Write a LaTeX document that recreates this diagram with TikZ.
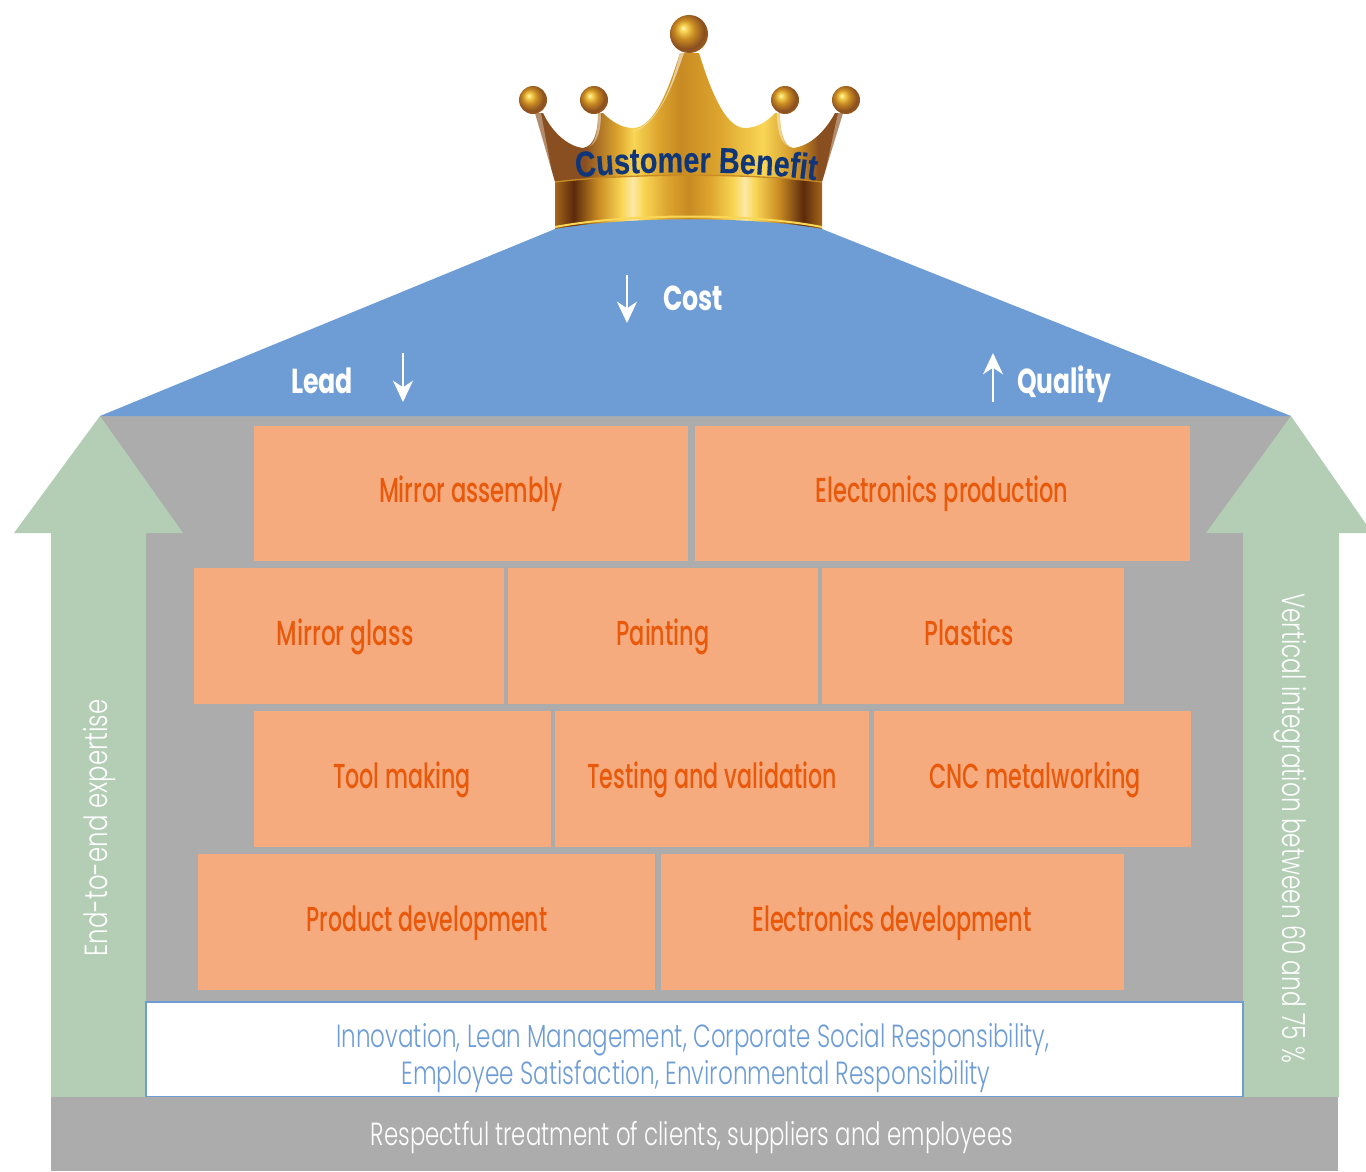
\documentclass[tikz,border=0pt]{standalone}
\usepackage{fontspec}
\usepackage{graphicx}
\usetikzlibrary{arrows.meta,decorations.text}
\newfontfamily\medf{Poppins Medium}
\newfontfamily\lightf{Poppins Light}
\newfontfamily\boldf{Poppins Bold}
\newfontfamily\crownf[FakeStretch=0.8,FakeBold=0.25]{Liberation Sans Bold}
\definecolor{roofblue}{HTML}{6E9DD5}
\definecolor{wallgray}{HTML}{ABACAB}
\definecolor{arrowgreen}{HTML}{B3CEB5}
\definecolor{brickfill}{HTML}{F6AB7E}
\definecolor{bricktxt}{HTML}{E8590C}
\definecolor{navy}{HTML}{10367A}
\definecolor{gA}{HTML}{8A4F20}
\definecolor{gB}{HTML}{DDA52E}
\definecolor{gC}{HTML}{F9D655}
\definecolor{gD}{HTML}{C88A22}
\definecolor{gE}{HTML}{5C2A0C}
\definecolor{gF}{HTML}{FBE9A6}
\definecolor{gG}{HTML}{FFF6C8}
\definecolor{gH}{HTML}{A5661A}
% the part of a shading that fills a path is its middle square, 25bp to 75bp
\pgfdeclarehorizontalshading{goldbody}{100bp}{color(0bp)=(gA);color(25bp)=(gA);color(33bp)=(gA);color(38.5bp)=(gB);color(41bp)=(gC);color(45bp)=(gB);color(48.5bp)=(gD);color(55bp)=(gB);color(62bp)=(gC);color(68bp)=(gD);color(71bp)=(gA);color(75bp)=(gA);color(100bp)=(gA)}
\pgfdeclarehorizontalshading{goldband}{100bp}{color(0bp)=(gH);color(25bp)=(gH);color(28.5bp)=(gE);color(33bp)=(gD);color(37.5bp)=(gC);color(39.5bp)=(gF);color(41.5bp)=(gC);color(46bp)=(gB);color(50bp)=(gD);color(54bp)=(gB);color(58.5bp)=(gC);color(60.5bp)=(gF);color(62.5bp)=(gC);color(67bp)=(gD);color(71.5bp)=(gE);color(75bp)=(gH);color(100bp)=(gH)}
\pgfdeclareradialshading{goldball}{\pgfpoint{-8bp}{8bp}}{color(0bp)=(gG);color(4bp)=(gC);color(13bp)=(gD);color(24bp)=(gA);color(33bp)=(gH);color(50bp)=(gH)}
\tikzset{
  x=0.75pt,y=-0.75pt,
  wall/.style={fill=wallgray,draw=none},
  upar/.style={fill=arrowgreen,draw=none},
  brick/.style={fill=brickfill,draw=none},
  bricklabel/.style={text=bricktxt,font=\medf\fontsize{26pt}{28pt}\selectfont,inner sep=0,anchor=base},
  rooflabel/.style={text=white,font=\boldf\fontsize{26pt}{28pt}\selectfont,inner sep=0,anchor=base},
  thinlabel/.style={text=white,font=\lightf\fontsize{24pt}{28pt}\selectfont,inner sep=0,anchor=base},
  bluelabel/.style={text=roofblue,font=\lightf\fontsize{24pt}{28pt}\selectfont,inner sep=0,anchor=base},
  whitearrow/.style={draw=white,line width=1.5pt,-{Stealth[length=16pt,width=15pt,inset=5pt]}},
  ballst/.style={shade,shading=goldball},
}
% \fit{width in px}{text}: squeeze text horizontally to the reference's width
\newcommand{\fit}[2]{\resizebox{\dimexpr #1pt*3/4\relax}{\height}{#2}}
\newcommand{\brick}[9]{%
  \path[brick] (#1,#3) rectangle (#2,#4);
  \node[bricklabel] (#7) at (#5,#6) {\fit{#8}{#9}};}
\begin{document}
\begin{tikzpicture}
\useasboundingbox (0,0) rectangle (1366,1171);
% crown body
\path[shade,shading=goldbody]
  (555,182) -- (535,113) -- (543,113)
  .. controls (551,130) and (566,146) .. (583,148)
  .. controls (595,146) and (598,130) .. (598,113) -- (603,113)
  .. controls (612,122) and (622,128) .. (633,128)
  .. controls (655,128) and (670,85) .. (680,53) -- (699,53)
  .. controls (709,85) and (724,128) .. (745,128)
  .. controls (756,128) and (767,122) .. (775,113) -- (780,113)
  .. controls (780,130) and (783,146) .. (793,148)
  .. controls (811,146) and (826,130) .. (835,113) -- (843,113)
  -- (822,182) -- cycle;
% highlights on the spikes
\path[fill=white,fill opacity=0.55] (680,53) .. controls (672,85) and (660,122) .. (632,132) .. controls (655,126) and (670,95) .. (684,53) -- cycle;
\path[fill=white,fill opacity=0.35] (535,113) -- (553,178) -- (541,113) -- cycle;
\path[fill=white,fill opacity=0.35] (843,113) -- (824,178) -- (838,113) -- cycle;
\path[fill=white,fill opacity=0.45] (598,113) .. controls (598,130) and (596,142) .. (589,147) .. controls (598,142) and (601,130) .. (601,113) -- cycle;
\path[fill=white,fill opacity=0.45] (780,113) .. controls (780,130) and (782,142) .. (789,147) .. controls (780,142) and (777,130) .. (777,113) -- cycle;
% crown band
\path[shade,shading=goldband] (555,182) .. controls (630,173) and (750,173) .. (822,182) -- (822,229) -- (555,229) -- cycle;
\draw[gD,line width=1pt] (555,182) .. controls (630,173) and (750,173) .. (822,182);
\draw[gC,line width=1.5pt] (555,227) .. controls (630,213) and (750,213) .. (822,227);
% balls
\path[ballst] (689,34) circle[radius=19];
\path[ballst] (533,100) circle[radius=14];
\path[ballst] (594,100) circle[radius=14];
\path[ballst] (785,100) circle[radius=14];
\path[ballst] (846,100) circle[radius=14];
% crown text
\path[decorate,decoration={text along path,text align=center,
   text={|\crownf\fontsize{27pt}{28pt}\selectfont\color{navy}|Customer Benefit}}]
   (572,178) .. controls (640,170) and (750,170) .. (820,181);
% walls
\path[wall] (100,416) -- (1291,416) -- (1243,533) -- (1243,1100) -- (146,1100) -- (146,533) -- cycle;
% roof
\path[fill=roofblue] (100,416) -- (555,229) .. controls (630,216) and (750,216) .. (822,229) -- (1291,416) -- cycle;
% side arrows
\path[upar] (100,416) -- (183,533) -- (146,533) -- (146,1097) -- (51,1097) -- (51,533) -- (14,533) -- cycle;
\path[upar] (1291,416) -- (1366,524) -- (1366,533) -- (1339,533) -- (1339,1097) -- (1243,1097) -- (1243,533) -- (1206,533) -- cycle;
% bricks
\brick{254}{688}{426}{561}{471}{502}{ma}{184}{Mirror assembly}
\brick{695}{1190}{426}{561}{942}{502}{ep}{253}{Electronics production}
\brick{194}{504}{568}{704}{345}{645}{mg}{137}{Mirror glass}
\brick{508}{818}{568}{704}{663}{645}{pa}{93}{Painting}
\brick{822}{1124}{568}{704}{969}{645}{pl}{89}{Plastics}
\brick{254}{551}{711}{847}{402}{788}{tm}{138}{Tool making}
\brick{555}{869}{711}{847}{712}{788}{tv}{250}{Testing and validation}
\brick{874}{1191}{711}{847}{1035}{788}{cn}{212}{CNC metalworking}
\brick{198}{655}{854}{990}{427}{931}{pd}{241}{Product development}
\brick{661}{1124}{854}{990}{892}{931}{ed}{279}{Electronics development}
% values box and base
\path[fill=white,draw=roofblue,line width=1pt] (146,1002) rectangle (1243,1097);
\path[wall] (51,1097) rectangle (1338,1171);
\node[bluelabel] (v1) at (693,1047) {\fit{713}{Innovation, Lean Management, Corporate Social Responsibility,}};
\node[bluelabel] (v2) at (696,1084) {\fit{589}{Employee Satisfaction, Environmental Responsibility}};
\node[thinlabel] (base) at (692,1145) {\fit{642}{Respectful treatment of clients, suppliers and employees}};
\node[thinlabel,rotate=90] (e2e) at (107,828) {\fit{257}{End-to-end expertise}};
\node[thinlabel,rotate=-90] (vert) at (1282,828) {\fit{470}{Vertical integration between 60 and 75 \%}};
% roof labels
\node[rooflabel] (cost) at (693,310) {\fit{60}{Cost}};
\node[rooflabel] (lead) at (322,393) {\fit{62}{Lead}};
\node[rooflabel] (qual) at (1064,393) {\fit{94}{Quality}};
\coordinate (ca) at (627,275); \coordinate (cb) at (627,323);
\coordinate (la) at (403,353); \coordinate (lb) at (403,402);
\coordinate (qa) at (993,402); \coordinate (qb) at (993,353);
\draw[whitearrow] (ca) -- (cb);
\draw[whitearrow] (la) -- (lb);
\draw[whitearrow] (qa) -- (qb);
\end{tikzpicture}
\end{document}
